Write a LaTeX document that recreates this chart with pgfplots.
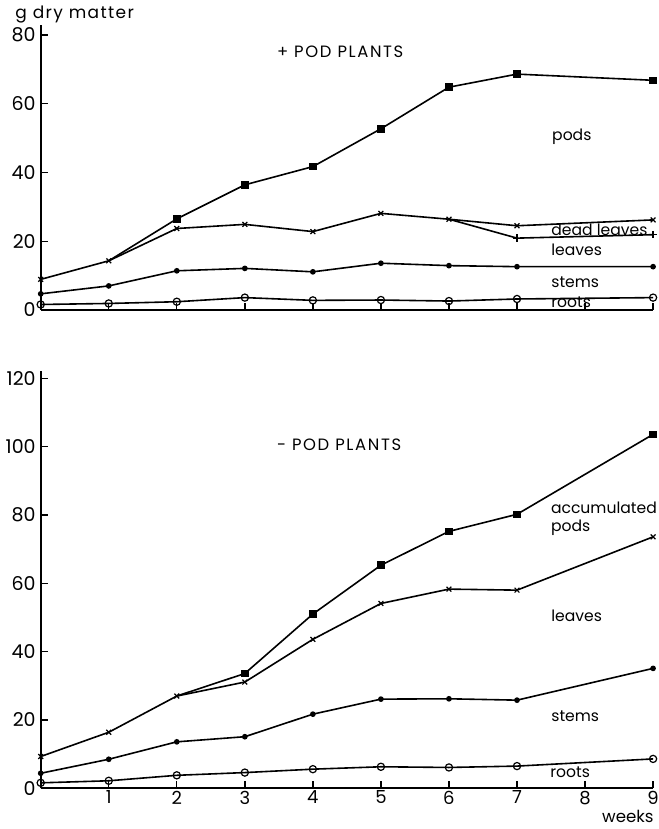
\documentclass[border=0pt]{standalone}
\usepackage{fontspec}
\setmainfont{Poppins}
\usepackage{pgfplots}
\pgfplotsset{compat=1.18}
\pgfplotsset{
  common/.style={
    scale only axis, width=306.2pt, xmin=0, xmax=9, ymin=0,
    axis lines=left, axis line style={-, line width=0.9pt},
    clip=false, tick align=inside, major tick length=3.5pt,
    tick style={black, line width=0.7pt},
    xtick={1,...,9},
    /pgf/number format/assume math mode=true,
    ticklabel style={font=\fontsize{9.5}{11}\selectfont},
    yticklabel style={xshift=1pt},
    xticklabel style={yshift=2.2pt, font=\fontsize{9}{10}\selectfont},
    every axis plot/.append style={black, line width=0.8pt},
  },
  pods/.style={mark=square*, mark size=1.5pt},
  lvs/.style={mark=x, mark size=1.7pt, mark options={line width=0.6pt}},
  plus/.style={mark=+, mark size=1.9pt, mark options={line width=0.6pt}},
  stm/.style={mark=*, mark size=1.0pt},
  rts/.style={mark=o, mark size=1.8pt, mark options={fill=white, line width=0.6pt}},
}
\begin{document}
\begin{tikzpicture}
\useasboundingbox (0,0) rectangle (329pt,414.5pt);
% ---------- + POD PLANTS ----------
\begin{axis}[common, at={(20.35pt,259.5pt)}, anchor=south west,
  height=142.7pt, ymax=83, ytick={0,20,40,60,80}, xticklabels={}]
\addplot[pods, mark indices={2,...,9}] coordinates {(1,14.3)(2,26.5)(3,36.4)(4,41.7)(5,52.7)(6,64.8)(7,68.6)(9,66.8)};
\addplot[lvs] coordinates {(0,8.9)(1,14.3)(2,23.7)(3,24.9)(4,22.8)(5,28.1)(6,26.4)(7,24.5)(9,26.2)};
\addplot[plus, mark indices={2,3}] coordinates {(6,26.4)(7,20.9)(9,21.9)};
\addplot[stm] coordinates {(0,4.7)(1,7.0)(2,11.4)(3,12.1)(4,11.1)(5,13.6)(6,12.9)(7,12.6)(9,12.6)};
\addplot[rts] coordinates {(0,1.6)(1,1.9)(2,2.4)(3,3.6)(4,2.8)(5,2.9)(6,2.6)(7,3.2)(9,3.6)};
\end{axis}
% ---------- - POD PLANTS ----------
\begin{axis}[common, at={(20.35pt,20.35pt)}, anchor=south west,
  height=208.4pt, ymax=122, ytick={0,20,40,60,80,100,120}]
\addplot[pods, mark indices={2,...,8}] coordinates {(2,27.0)(3,33.6)(4,51.0)(5,65.3)(6,75.2)(7,80.2)(9,103.6)};
\addplot[lvs] coordinates {(0,9.3)(1,16.4)(2,27.0)(3,31.1)(4,43.6)(5,54.1)(6,58.3)(7,58.0)(9,73.6)};
\addplot[stm] coordinates {(0,4.4)(1,8.5)(2,13.6)(3,15.1)(4,21.7)(5,26.1)(6,26.2)(7,25.8)(9,35.1)};
\addplot[rts] coordinates {(0,1.6)(1,2.2)(2,3.8)(3,4.6)(4,5.6)(5,6.3)(6,6.1)(7,6.5)(9,8.6)};
\end{axis}
% ---------- labels ----------
\begin{scope}[every node/.style={inner sep=0pt, font=\fontsize{7.8}{8.8}\selectfont}]
\node[anchor=west, font=\fontsize{8.5}{10}\selectfont\addfontfeature{LetterSpace=8}] at (7.5pt,407pt) {g dry matter};
\node[anchor=west, font=\fontsize{8.2}{10}\selectfont\addfontfeature{LetterSpace=10}] at (138.3pt,388.65pt) {+ POD PLANTS};
\node[anchor=west] at (275.9pt,346.15pt) {pods};
\node[anchor=west] at (275.5pt,299.5pt) {dead leaves};
\node[anchor=west] at (275.5pt,289.5pt) {leaves};
\node[anchor=west] at (275.5pt,273.5pt) {stems};
\node[anchor=west] at (275.5pt,263.15pt) {roots};
\node[anchor=west, font=\fontsize{8.2}{10}\selectfont\addfontfeature{LetterSpace=10}] at (138.3pt,192pt) {- POD PLANTS};
\node[anchor=west, align=left] at (275.3pt,155.15pt) {accumulated\\pods};
\node[anchor=west] at (275.5pt,106.5pt) {leaves};
\node[anchor=west] at (275.5pt,56.5pt) {stems};
\node[anchor=west] at (275pt,28.15pt) {roots};
\node[anchor=base east, font=\fontsize{8.3}{10}\selectfont] at (327pt,3.2pt) {weeks};
\end{scope}
\end{tikzpicture}
\end{document}
